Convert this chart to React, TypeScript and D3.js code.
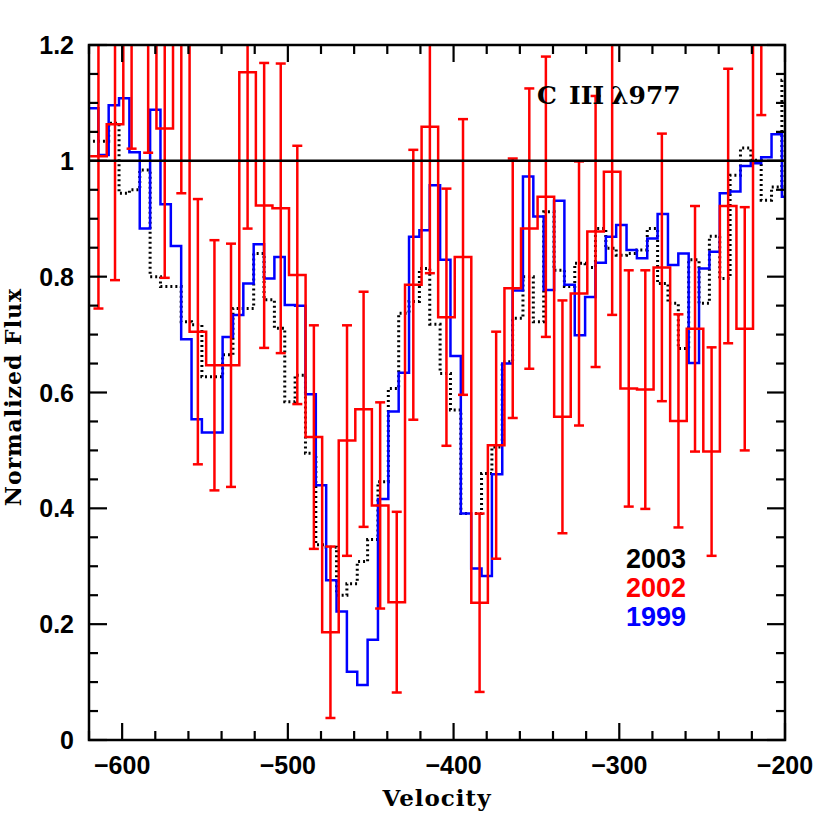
import React from "react";
import * as d3 from "d3";

// ---- data ----
const velocityFine = [
  -617.5, -611.25, -605, -598.75, -592.5, -586.25, -580, -573.75, -567.5, -561.25,
  -555, -548.75, -542.5, -536.25, -530, -523.75, -517.5, -511.25, -505, -498.75,
  -492.5, -486.25, -480, -473.75, -467.5, -461.25, -455, -448.75, -442.5, -436.25,
  -430, -423.75, -417.5, -411.25, -405, -398.75, -392.5, -386.25, -380, -373.75,
  -367.5, -361.25, -355, -348.75, -342.5, -336.25, -330, -323.75, -317.5, -311.25,
  -305, -298.75, -292.5, -286.25, -280, -273.75, -267.5, -261.25, -255, -248.75,
  -242.5, -236.25, -230, -223.75, -217.5, -211.25, -205, -198.75,
];
const binFine = 6.25;

const flux1999 = [
  1.091, 1.010, 1.096, 1.108, 1.015, 0.883, 1.088, 0.925, 0.853, 0.692,
  0.554, 0.531, 0.531, 0.696, 0.734, 0.788, 0.856, 0.797, 0.834, 0.751,
  0.750, 0.597, 0.440, 0.276, 0.222, 0.118, 0.095, 0.173, 0.416, 0.567,
  0.634, 0.869, 0.880, 0.958, 0.829, 0.663, 0.391, 0.296, 0.283, 0.459,
  0.650, 0.776, 0.973, 0.904, 0.777, 0.931, 0.786, 0.699, 0.765, 0.824,
  0.869, 0.889, 0.846, 0.832, 0.866, 0.908, 0.820, 0.840, 0.651, 0.814,
  0.843, 0.944, 0.947, 0.991, 0.996, 1.006, 1.046, 0.938,
];

const flux2003 = [
  1.034, 1.034, 1.065, 0.944, 0.950, 0.984, 0.800, 0.783, 0.783, 0.722,
  0.717, 0.627, 0.627, 0.665, 0.745, 0.745, 0.840, 0.760, 0.711, 0.584,
  0.630, 0.495, 0.337, 0.333, 0.250, 0.270, 0.308, 0.346, 0.446, 0.607,
  0.737, 0.757, 0.814, 0.718, 0.633, 0.570, 0.391, 0.391, 0.460, 0.506,
  0.653, 0.728, 0.800, 0.722, 0.912, 0.811, 0.783, 0.823, 0.816, 0.883,
  0.849, 0.837, 0.840, 0.846, 0.883, 0.788, 0.754, 0.676, 0.829, 0.754,
  0.870, 0.797, 0.975, 1.022, 1.001, 0.932, 0.955, 1.139,
];

const velocityCoarse = [
  -614.3, -604.3, -594.3, -584.3, -574.3, -564.3, -554.3, -544.3, -534.3, -524.3,
  -514.3, -504.3, -494.3, -484.3, -474.3, -464.3, -454.3, -444.3, -434.3, -424.3,
  -414.3, -404.3, -394.3, -384.3, -374.3, -364.3, -354.3, -344.3, -334.3, -324.3,
  -314.3, -304.3, -294.3, -284.3, -274.3, -264.3, -254.3, -244.3, -234.3, -224.3,
  -214.3,
];
const binCoarse = 10;

const flux2002 = [
  1.008, 1.063, 1.30, 1.30, 1.056, 1.25, 0.705, 0.647, 0.647, 1.153,
  0.923, 0.918, 0.803, 0.523, 0.186, 0.517, 0.571, 0.405, 0.238, 0.786,
  1.059, 0.730, 0.834, 0.237, 0.509, 0.780, 0.883, 0.938, 0.558, 0.771,
  0.878, 0.981, 0.607, 0.605, 0.816, 0.551, 0.710, 0.498, 0.922, 0.710,
  1.33,
];
const err2002 = [
  0.263, 0.269, 0.279, 0.286, 0.258, 0.306, 0.229, 0.216, 0.210, 0.270,
  0.246, 0.250, 0.223, 0.193, 0.148, 0.199, 0.203, 0.178, 0.156, 0.233,
  0.253, 0.222, 0.238, 0.154, 0.196, 0.224, 0.242, 0.242, 0.201, 0.228,
  0.234, 0.247, 0.204, 0.206, 0.231, 0.184, 0.212, 0.180, 0.237, 0.210,
  0.251,
];

const xTicks = [-600, -500, -400, -300, -200];
const yTicks = [0, 0.2, 0.4, 0.6, 0.8, 1, 1.2];
const yTickLabels = ["0", "0.2", "0.4", "0.6", "0.8", "1", "1.2"];
const legendLabels = ["2003", "2002", "1999"];
const legendColors = ["#000000", "#ff0000", "#0000ff"];
const title = ["C", "III", "λ977"];

// ---- layout ----
const W = 830;
const H = 829;
const L = 89;
const R = 785;
const T = 45;
const B = 740;

export default function App() {
  const x = d3.scaleLinear().domain([-620, -200]).range([L, R]);
  const y = d3.scaleLinear().domain([0, 1.2]).range([B, T]);

  const stepPath = (vel: number[], vals: number[], w: number) => {
    const p = d3.path();
    vel.forEach((v, i) => {
      const x0 = x(v - w / 2);
      const x1 = x(v + w / 2);
      const yy = y(vals[i]);
      if (i === 0) p.moveTo(x0, yy);
      else p.lineTo(x0, yy);
      p.lineTo(x1, yy);
    });
    return p.toString();
  };

  const xMinor = d3.range(-620, -199, 20);
  const yMinor = d3.range(0, 1.2001, 0.05);

  const tickFont = "'Liberation Sans', Arial, sans-serif";
  const serif = "'DejaVu Serif', 'Liberation Serif', serif";

  return (
    <svg
      width={W}
      height={H}
      style={{ position: "absolute", left: 0, top: 0, background: "#fff" }}
    >
      <defs>
        <clipPath id="plotclip">
          <rect x={L} y={T} width={R - L} height={B - T} />
        </clipPath>
      </defs>

      <g clipPath="url(#plotclip)">
        {/* 2003 dotted */}
        <path
          d={stepPath(velocityFine, flux2003, binFine)}
          fill="none"
          stroke="#000"
          strokeWidth={3}
          strokeDasharray="2 3"
        />
        {/* 1999 */}
        <path
          d={stepPath(velocityFine, flux1999, binFine)}
          fill="none"
          stroke="#0000ff"
          strokeWidth={2.5}
        />
        {/* 2002 */}
        <path
          d={stepPath(velocityCoarse, flux2002, binCoarse)}
          fill="none"
          stroke="#ff0000"
          strokeWidth={2.5}
        />
        {velocityCoarse.map((v, i) => {
          const cx = x(v);
          const lo = y(flux2002[i] - err2002[i]);
          const hi = y(flux2002[i] + err2002[i]);
          return (
            <g key={i} stroke="#ff0000" strokeWidth={2.5}>
              <line x1={cx} x2={cx} y1={lo} y2={hi} />
              <line x1={cx - 5} x2={cx + 5} y1={lo} y2={lo} />
              <line x1={cx - 5} x2={cx + 5} y1={hi} y2={hi} />
            </g>
          );
        })}
        {/* continuum */}
        <line x1={L} x2={R} y1={y(1)} y2={y(1)} stroke="#000" strokeWidth={2.5} />
      </g>

      {/* frame */}
      <rect x={L} y={T} width={R - L} height={B - T} fill="none" stroke="#000" strokeWidth={2.5} />

      {/* x ticks */}
      {xMinor.map((v) => {
        const major = Math.abs(v % 100) < 1e-6;
        const len = major ? 17 : 9;
        return (
          <g key={"xt" + v} stroke="#000" strokeWidth={2.2}>
            <line x1={x(v)} x2={x(v)} y1={B} y2={B - len} />
            <line x1={x(v)} x2={x(v)} y1={T} y2={T + len} />
          </g>
        );
      })}
      {/* y ticks */}
      {yMinor.map((v, i) => {
        const major = i % 4 === 0;
        const len = major ? 18 : 9;
        return (
          <g key={"yt" + i} stroke="#000" strokeWidth={2.2}>
            <line x1={L} x2={L + len} y1={y(v)} y2={y(v)} />
            <line x1={R} x2={R - len} y1={y(v)} y2={y(v)} />
          </g>
        );
      })}

      {/* tick labels */}
      {xTicks.map((v) => (
        <text
          key={"xl" + v}
          x={x(v)}
          y={774}
          textAnchor="middle"
          fontFamily={tickFont}
          fontWeight="bold"
          fontSize={25}
        >
          {v < 0 ? "\u2212" + Math.abs(v) : String(v)}
        </text>
      ))}
      {yTicks.map((v, i) => (
        <text
          key={"yl" + i}
          x={74}
          y={y(v) + 9}
          textAnchor="end"
          fontFamily={tickFont}
          fontWeight="bold"
          fontSize={25}
        >
          {yTickLabels[i]}
        </text>
      ))}

      {/* axis titles */}
      <text
        x={437}
        y={806}
        textAnchor="middle"
        fontFamily={serif}
        fontWeight="bold"
        fontSize={23}
        letterSpacing={1}
      >
        Velocity
      </text>
      <text
        transform="translate(21,397) rotate(-90)"
        textAnchor="middle"
        fontFamily={serif}
        fontWeight="bold"
        fontSize={22}
        letterSpacing={1}
      >
        Normalized Flux
      </text>

      {/* ion label */}
      <text y={104} fontFamily={serif} fontWeight="bold" fontSize={25}>
        <tspan x={537}>{title[0]}</tspan>
        <tspan x={569}>{title[1]}</tspan>
        <tspan x={611}>{title[2]}</tspan>
      </text>

      {/* legend */}
      {legendLabels.map((lab, i) => (
        <text
          key={lab}
          x={686}
          y={568 + i * 29}
          textAnchor="end"
          fill={legendColors[i]}
          fontFamily={tickFont}
          fontWeight="bold"
          fontSize={27}
        >
          {lab}
        </text>
      ))}
    </svg>
  );
}
